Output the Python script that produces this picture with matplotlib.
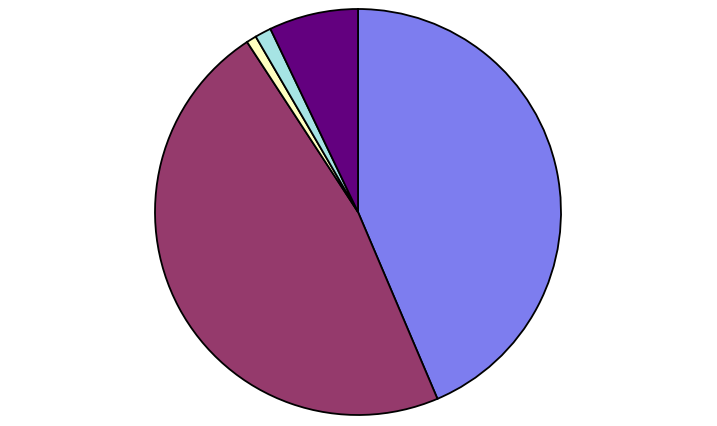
import matplotlib
matplotlib.use("Agg")
import matplotlib.pyplot as plt

# slice shares (percent), in drawing order clockwise from 12 o'clock
labels = ["A", "B", "C", "D", "E"]
shares = [43.6, 47.2, 0.8, 1.3, 7.1]
colors = ["#7d7def", "#953a6c", "#ffffc0", "#a6e4e4", "#63007f"]

W, H = 717, 426
fig = plt.figure(figsize=(W / 100, H / 100), dpi=100)
fig.patch.set_facecolor("white")

cx, cy, r = 358, 214, 203
ax = fig.add_axes([(cx - r) / W, (cy - r) / H, 2 * r / W, 2 * r / H])
ax.pie(shares, colors=colors, startangle=90, counterclock=False, radius=1,
       wedgeprops=dict(edgecolor="black", linewidth=1.3))
ax.set_xlim(-1, 1)
ax.set_ylim(-1, 1)
ax.set_aspect("equal")
ax.axis("off")

fig.savefig("out.png", dpi=100, facecolor="white")
